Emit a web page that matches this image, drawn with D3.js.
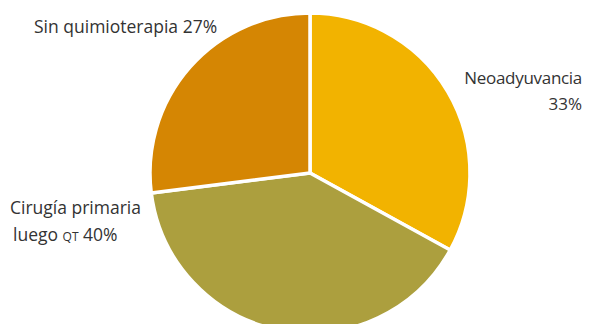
<!DOCTYPE html>
<html><head><meta charset="utf-8">
<script src="https://cdn.jsdelivr.net/npm/d3@7"></script>
<style>body{margin:0;background:#fff}svg{display:block}text{font-family:"Open Sans","Noto Sans",sans-serif;fill:#333}</style>
</head><body>
<script>
const categories = ["Neoadyuvancia", "Cirugía primaria luego QT", "Sin quimioterapia"];
const values = [33, 40, 27];
const colors = ["#F2B300", "#AC9F3E", "#D58603"];

const W = 593, H = 324, cx = 310, cy = 173, R = 160;
const svg = d3.select("body").append("svg").attr("width", W).attr("height", H);
const g = svg.append("g").attr("transform", `translate(${cx},${cy})`);
const pie = d3.pie().sort(null).value(d => d);
const arc = d3.arc().innerRadius(0).outerRadius(R);
g.selectAll("path").data(pie(values)).join("path")
  .attr("d", arc).attr("fill", (d, i) => colors[i])
  .attr("stroke", "#fff").attr("stroke-width", 3.5).attr("stroke-linejoin", "miter");

const fs = 17;
svg.append("text").attr("x", 34).attr("y", 33).attr("font-size", 17.5).text("Sin quimioterapia " + values[2] + "%");
svg.append("text").attr("x", 582).attr("y", 84).attr("font-size", fs).attr("text-anchor", "end").attr("letter-spacing", -0.3).text(categories[0]);
svg.append("text").attr("x", 582).attr("y", 110).attr("font-size", fs).attr("text-anchor", "end").text(values[0] + "%");
svg.append("text").attr("x", 10).attr("y", 214).attr("font-size", 17.5).text("Cirugía primaria");
const t = svg.append("text").attr("x", 13).attr("y", 241).attr("font-size", 17.5);
t.append("tspan").text("luego ");
t.append("tspan").attr("font-size", 12).text("QT");
t.append("tspan").text(" " + values[1] + "%");
</script>
</body></html>
